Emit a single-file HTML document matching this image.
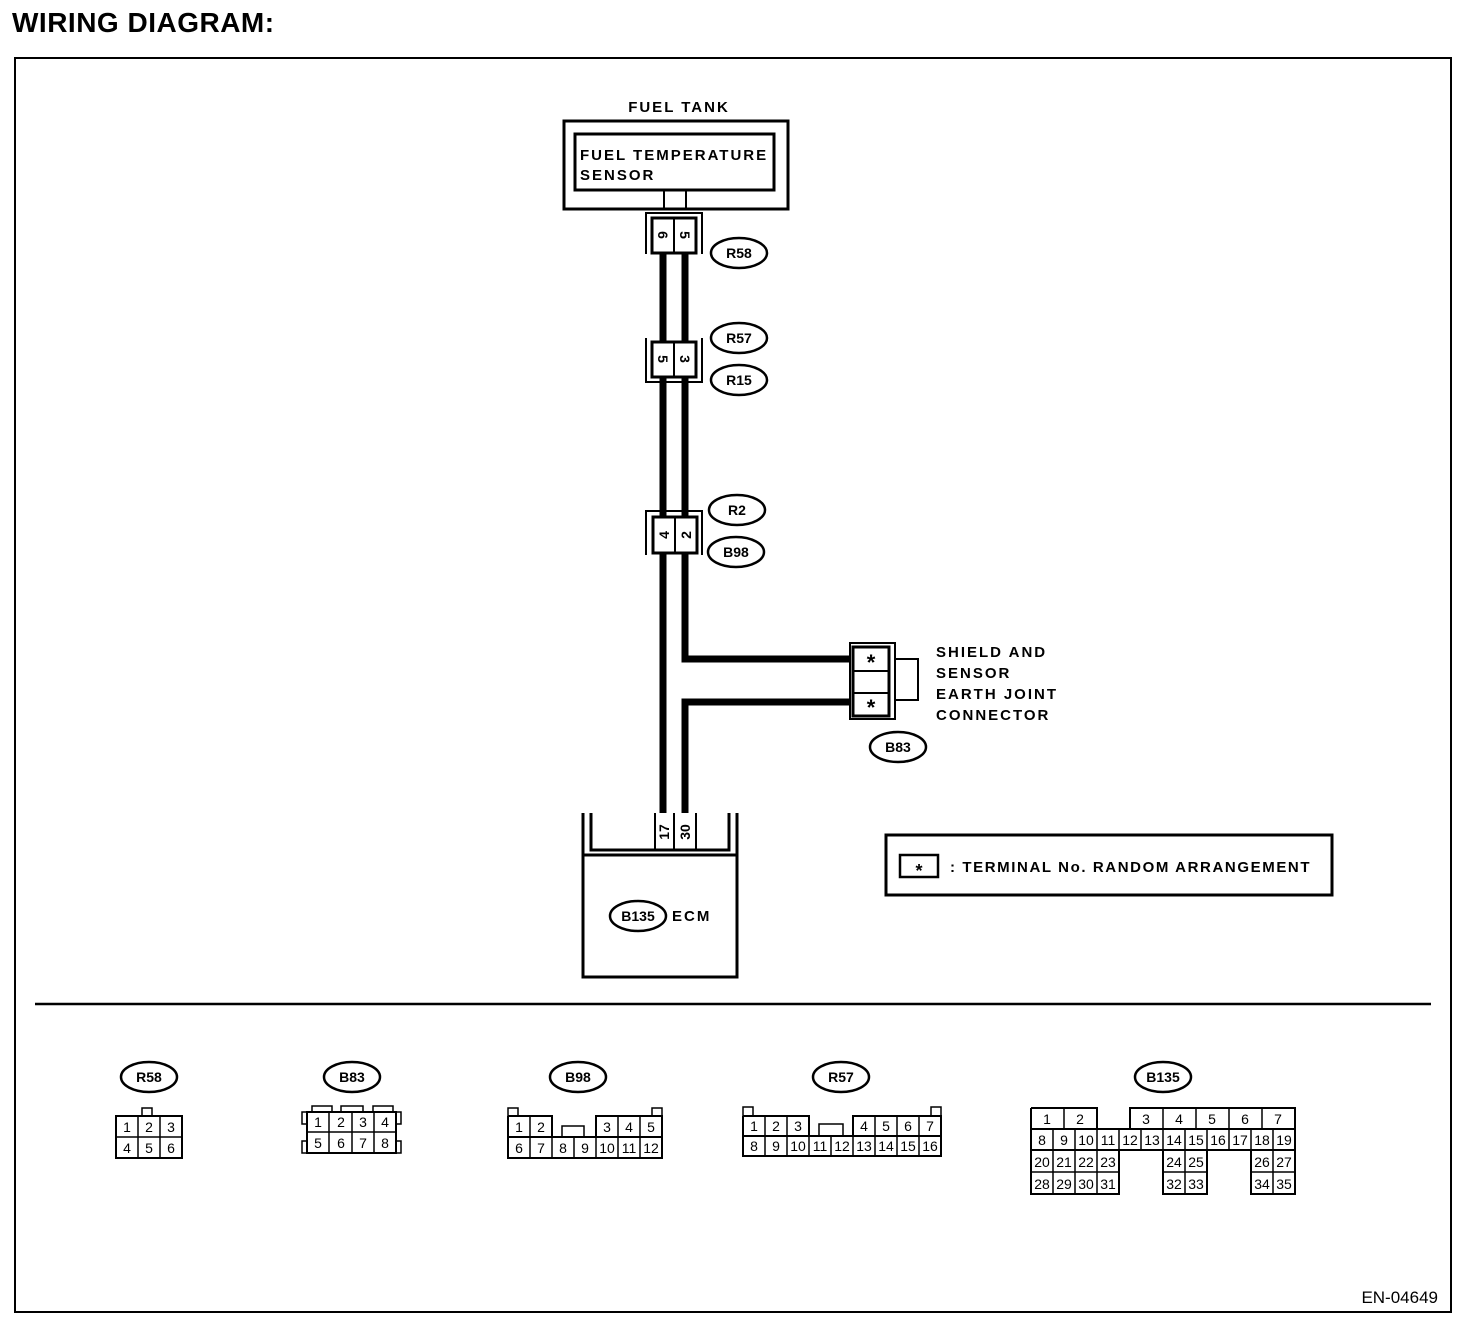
<!DOCTYPE html>
<html><head><meta charset="utf-8"><style>
html,body{margin:0;padding:0;background:#fff}
svg{display:block}
text{font-family:"Liberation Sans",sans-serif;fill:#000}
.b{font-weight:bold;font-size:15px;letter-spacing:2px}
.n{font-size:14px;text-anchor:middle}
.o{font-weight:bold;font-size:14px;text-anchor:middle}
</style></head><body>
<svg width="1472" height="1330" viewBox="0 0 1472 1330" xmlns="http://www.w3.org/2000/svg">
<text x="12" y="32" style="font-weight:bold;font-size:28px;letter-spacing:0.5px">WIRING DIAGRAM:</text>
<rect x="15" y="58" width="1436" height="1254" fill="none" stroke="#000" stroke-width="2"/>

<!-- fuel tank -->
<text x="679" y="112" class="b" text-anchor="middle">FUEL TANK</text>
<rect x="564" y="121" width="224" height="88" fill="none" stroke="#000" stroke-width="3"/>
<rect x="575" y="134" width="199" height="56" fill="none" stroke="#000" stroke-width="3"/>
<text x="580" y="160" class="b">FUEL TEMPERATURE</text>
<text x="580" y="180" class="b">SENSOR</text>
<line x1="664" y1="191" x2="664" y2="210" stroke="#000" stroke-width="2"/>
<line x1="686" y1="191" x2="686" y2="210" stroke="#000" stroke-width="2"/>

<g stroke="#000" fill="none">
<line x1="663" y1="253" x2="663" y2="813" stroke-width="7"/>
<path d="M685 253 V659 H850" stroke-width="7"/>
<path d="M850 702 H685 V813" stroke-width="7"/>
<path d="M646 254 V213 H702 V254" stroke-width="2"/>
<rect x="652" y="218" width="44" height="35" fill="#fff" stroke-width="3"/>
<line x1="674" y1="218" x2="674" y2="253" stroke-width="2"/>
<path d="M646 338 V382 H702 V338" stroke-width="2"/>
<rect x="652" y="342" width="44" height="35" fill="#fff" stroke-width="3"/>
<line x1="674" y1="342" x2="674" y2="377" stroke-width="2"/>
<path d="M646 555 V511 H702 V555" stroke-width="2"/>
<rect x="653" y="517" width="44" height="36" fill="#fff" stroke-width="3"/>
<line x1="675" y1="517" x2="675" y2="553" stroke-width="2"/>
<rect x="850" y="643" width="45" height="76" stroke-width="2"/>
<rect x="853" y="647" width="36" height="69" fill="#fff" stroke-width="3"/>
<line x1="853" y1="671" x2="889" y2="671" stroke-width="2"/>
<line x1="853" y1="693" x2="889" y2="693" stroke-width="2"/>
<path d="M895 659 H918 V700 H895" stroke-width="2"/>
<path d="M583 813 V977 H737 V813" stroke-width="3"/>
<line x1="583" y1="855" x2="737" y2="855" stroke-width="3"/>
<path d="M591 813 V850 H729 V813" stroke-width="3"/>
<line x1="655" y1="813" x2="655" y2="850" stroke-width="2"/>
<line x1="674" y1="813" x2="674" y2="850" stroke-width="2"/>
<line x1="696" y1="813" x2="696" y2="850" stroke-width="2"/>
<g stroke-width="2.5" fill="#fff">
<ellipse cx="739" cy="253" rx="28" ry="15"/>
<ellipse cx="739" cy="338" rx="28" ry="15"/>
<ellipse cx="739" cy="380" rx="28" ry="15"/>
<ellipse cx="737" cy="510" rx="28" ry="15"/>
<ellipse cx="736" cy="552" rx="28" ry="15"/>
<ellipse cx="898" cy="747" rx="28" ry="15"/>
<ellipse cx="638" cy="916" rx="28" ry="15"/>
<ellipse cx="149" cy="1077" rx="28" ry="15"/>
<ellipse cx="352" cy="1077" rx="28" ry="15"/>
<ellipse cx="578" cy="1077" rx="28" ry="15"/>
<ellipse cx="841" cy="1077" rx="28" ry="15"/>
<ellipse cx="1163" cy="1077" rx="28" ry="15"/>
</g>
<rect x="886" y="835" width="446" height="60" stroke-width="3"/>
<rect x="900" y="855" width="38" height="22" stroke-width="2.5"/>
<line x1="35" y1="1004" x2="1431" y2="1004" stroke-width="2.5"/>
</g>

<g style="font-weight:bold;font-size:14px" text-anchor="middle">
<text transform="translate(663,235) rotate(90)" y="5">6</text>
<text transform="translate(685,235) rotate(90)" y="5">5</text>
<text transform="translate(663,359) rotate(90)" y="5">5</text>
<text transform="translate(685,359) rotate(90)" y="5">3</text>
<text transform="translate(664,535) rotate(-90)" y="5">4</text>
<text transform="translate(686,535) rotate(-90)" y="5">2</text>
<text transform="translate(664,832) rotate(-90)" y="5">17</text>
<text transform="translate(685,832) rotate(-90)" y="5">30</text>
</g>

<text x="739" y="258" class="o">R58</text>
<text x="739" y="343" class="o">R57</text>
<text x="739" y="385" class="o">R15</text>
<text x="737" y="515" class="o">R2</text>
<text x="736" y="557" class="o">B98</text>
<text x="898" y="752" class="o">B83</text>
<text x="638" y="921" class="o">B135</text>
<text x="672" y="921" class="b">ECM</text>
<text x="871" y="670" style="font-weight:bold;font-size:22px" text-anchor="middle">*</text>
<text x="871" y="715" style="font-weight:bold;font-size:22px" text-anchor="middle">*</text>
<text x="919" y="877" style="font-weight:bold;font-size:18px" text-anchor="middle">*</text>
<text x="936" y="657" class="b">SHIELD AND</text>
<text x="936" y="678" class="b">SENSOR</text>
<text x="936" y="699" class="b">EARTH JOINT</text>
<text x="936" y="720" class="b">CONNECTOR</text>
<text x="950" y="872" class="b" style="letter-spacing:1.6px">: TERMINAL No. RANDOM ARRANGEMENT</text>
<text x="1438" y="1303" style="font-size:17px" text-anchor="end">EN-04649</text>

<text x="149" y="1082" class="o">R58</text>
<text x="352" y="1082" class="o">B83</text>
<text x="578" y="1082" class="o">B98</text>
<text x="841" y="1082" class="o">R57</text>
<text x="1163" y="1082" class="o">B135</text>

<g stroke="#000" stroke-width="1.5" fill="none">
<rect x="142" y="1108" width="10" height="8"/>
<rect x="116" y="1116" width="66" height="42" stroke-width="2"/>
<line x1="138" y1="1116" x2="138" y2="1158"/><line x1="160" y1="1116" x2="160" y2="1158"/>
<line x1="116" y1="1137" x2="182" y2="1137"/>
<rect x="312" y="1106" width="20" height="6"/><rect x="341" y="1106" width="22" height="6"/><rect x="373" y="1106" width="20" height="6"/>
<rect x="302" y="1112" width="5" height="12"/><rect x="396" y="1112" width="5" height="12"/>
<rect x="302" y="1141" width="5" height="12"/><rect x="396" y="1141" width="5" height="12"/>
<rect x="307" y="1112" width="89" height="41" stroke-width="2"/>
<line x1="329" y1="1112" x2="329" y2="1153"/><line x1="352" y1="1112" x2="352" y2="1153"/><line x1="374" y1="1112" x2="374" y2="1153"/>
<line x1="307" y1="1132" x2="396" y2="1132"/>
<rect x="508" y="1108" width="10" height="8"/><rect x="652" y="1108" width="10" height="8"/>
<path d="M508 1116 H552 V1137 M508 1116 V1158 H662 V1116 H596 V1137 M508 1137 H662" stroke-width="2"/>
<rect x="562" y="1126" width="22" height="11"/>
<line x1="530" y1="1116" x2="530" y2="1158"/><line x1="574" y1="1137" x2="574" y2="1158"/><line x1="596" y1="1137" x2="596" y2="1158"/>
<line x1="552" y1="1137" x2="552" y2="1158"/><line x1="618" y1="1116" x2="618" y2="1158"/><line x1="640" y1="1116" x2="640" y2="1158"/>
<rect x="743" y="1107" width="10" height="9"/><rect x="931" y="1107" width="10" height="9"/>
<path d="M743 1116 H809 V1136 M743 1116 V1156 H941 V1116 H853 V1136 M743 1136 H941" stroke-width="2"/>
<rect x="819" y="1124" width="24" height="12"/>
<line x1="765" y1="1116" x2="765" y2="1156"/><line x1="787" y1="1116" x2="787" y2="1156"/>
<line x1="809" y1="1136" x2="809" y2="1156"/><line x1="831" y1="1136" x2="831" y2="1156"/><line x1="853" y1="1136" x2="853" y2="1156"/>
<line x1="875" y1="1116" x2="875" y2="1156"/><line x1="897" y1="1116" x2="897" y2="1156"/><line x1="919" y1="1116" x2="919" y2="1156"/>
<path d="M1031 1108 H1097 V1129 M1130 1129 V1108 H1295 V1194 H1251 V1150 M1031 1108 V1194 H1119 V1150 M1163 1150 V1194 H1207 V1150 M1031 1129 H1295 M1031 1150 H1295" stroke-width="2"/>
<path d="M1031 1172 H1119 M1163 1172 H1207 M1251 1172 H1295"/>
<line x1="1064" y1="1108" x2="1064" y2="1129"/><line x1="1163" y1="1108" x2="1163" y2="1129"/><line x1="1196" y1="1108" x2="1196" y2="1129"/><line x1="1229" y1="1108" x2="1229" y2="1129"/><line x1="1262" y1="1108" x2="1262" y2="1129"/>
<line x1="1053" y1="1129" x2="1053" y2="1194"/><line x1="1075" y1="1129" x2="1075" y2="1194"/><line x1="1097" y1="1129" x2="1097" y2="1194"/>
<line x1="1119" y1="1129" x2="1119" y2="1150"/><line x1="1141" y1="1129" x2="1141" y2="1150"/><line x1="1163" y1="1129" x2="1163" y2="1150"/>
<line x1="1185" y1="1129" x2="1185" y2="1194"/><line x1="1207" y1="1129" x2="1207" y2="1150"/><line x1="1229" y1="1129" x2="1229" y2="1150"/>
<line x1="1251" y1="1129" x2="1251" y2="1150"/><line x1="1273" y1="1129" x2="1273" y2="1194"/>
</g>

<g class="n" style="font-size:14px" text-anchor="middle">
<text x="127" y="1132">1</text><text x="149" y="1132">2</text><text x="171" y="1132">3</text>
<text x="127" y="1153">4</text><text x="149" y="1153">5</text><text x="171" y="1153">6</text>
<text x="318" y="1127">1</text><text x="341" y="1127">2</text><text x="363" y="1127">3</text><text x="385" y="1127">4</text>
<text x="318" y="1148">5</text><text x="341" y="1148">6</text><text x="363" y="1148">7</text><text x="385" y="1148">8</text>
<text x="519" y="1132">1</text><text x="541" y="1132">2</text><text x="607" y="1132">3</text><text x="629" y="1132">4</text><text x="651" y="1132">5</text>
<text x="519" y="1153">6</text><text x="541" y="1153">7</text><text x="563" y="1153">8</text><text x="585" y="1153">9</text>
<text x="607" y="1153">10</text><text x="629" y="1153">11</text><text x="651" y="1153">12</text>
<text x="754" y="1131">1</text><text x="776" y="1131">2</text><text x="798" y="1131">3</text>
<text x="864" y="1131">4</text><text x="886" y="1131">5</text><text x="908" y="1131">6</text><text x="930" y="1131">7</text>
<text x="754" y="1151">8</text><text x="776" y="1151">9</text><text x="798" y="1151">10</text><text x="820" y="1151">11</text><text x="842" y="1151">12</text>
<text x="864" y="1151">13</text><text x="886" y="1151">14</text><text x="908" y="1151">15</text><text x="930" y="1151">16</text>
<text x="1047" y="1124">1</text><text x="1080" y="1124">2</text><text x="1146" y="1124">3</text><text x="1179" y="1124">4</text><text x="1212" y="1124">5</text><text x="1245" y="1124">6</text><text x="1278" y="1124">7</text>
<text x="1042" y="1145">8</text><text x="1064" y="1145">9</text><text x="1086" y="1145">10</text><text x="1108" y="1145">11</text><text x="1130" y="1145">12</text><text x="1152" y="1145">13</text>
<text x="1174" y="1145">14</text><text x="1196" y="1145">15</text><text x="1218" y="1145">16</text><text x="1240" y="1145">17</text><text x="1262" y="1145">18</text><text x="1284" y="1145">19</text>
<text x="1042" y="1167">20</text><text x="1064" y="1167">21</text><text x="1086" y="1167">22</text><text x="1108" y="1167">23</text>
<text x="1174" y="1167">24</text><text x="1196" y="1167">25</text><text x="1262" y="1167">26</text><text x="1284" y="1167">27</text>
<text x="1042" y="1189">28</text><text x="1064" y="1189">29</text><text x="1086" y="1189">30</text><text x="1108" y="1189">31</text>
<text x="1174" y="1189">32</text><text x="1196" y="1189">33</text><text x="1262" y="1189">34</text><text x="1284" y="1189">35</text>
</g>
</svg>
</body></html>
